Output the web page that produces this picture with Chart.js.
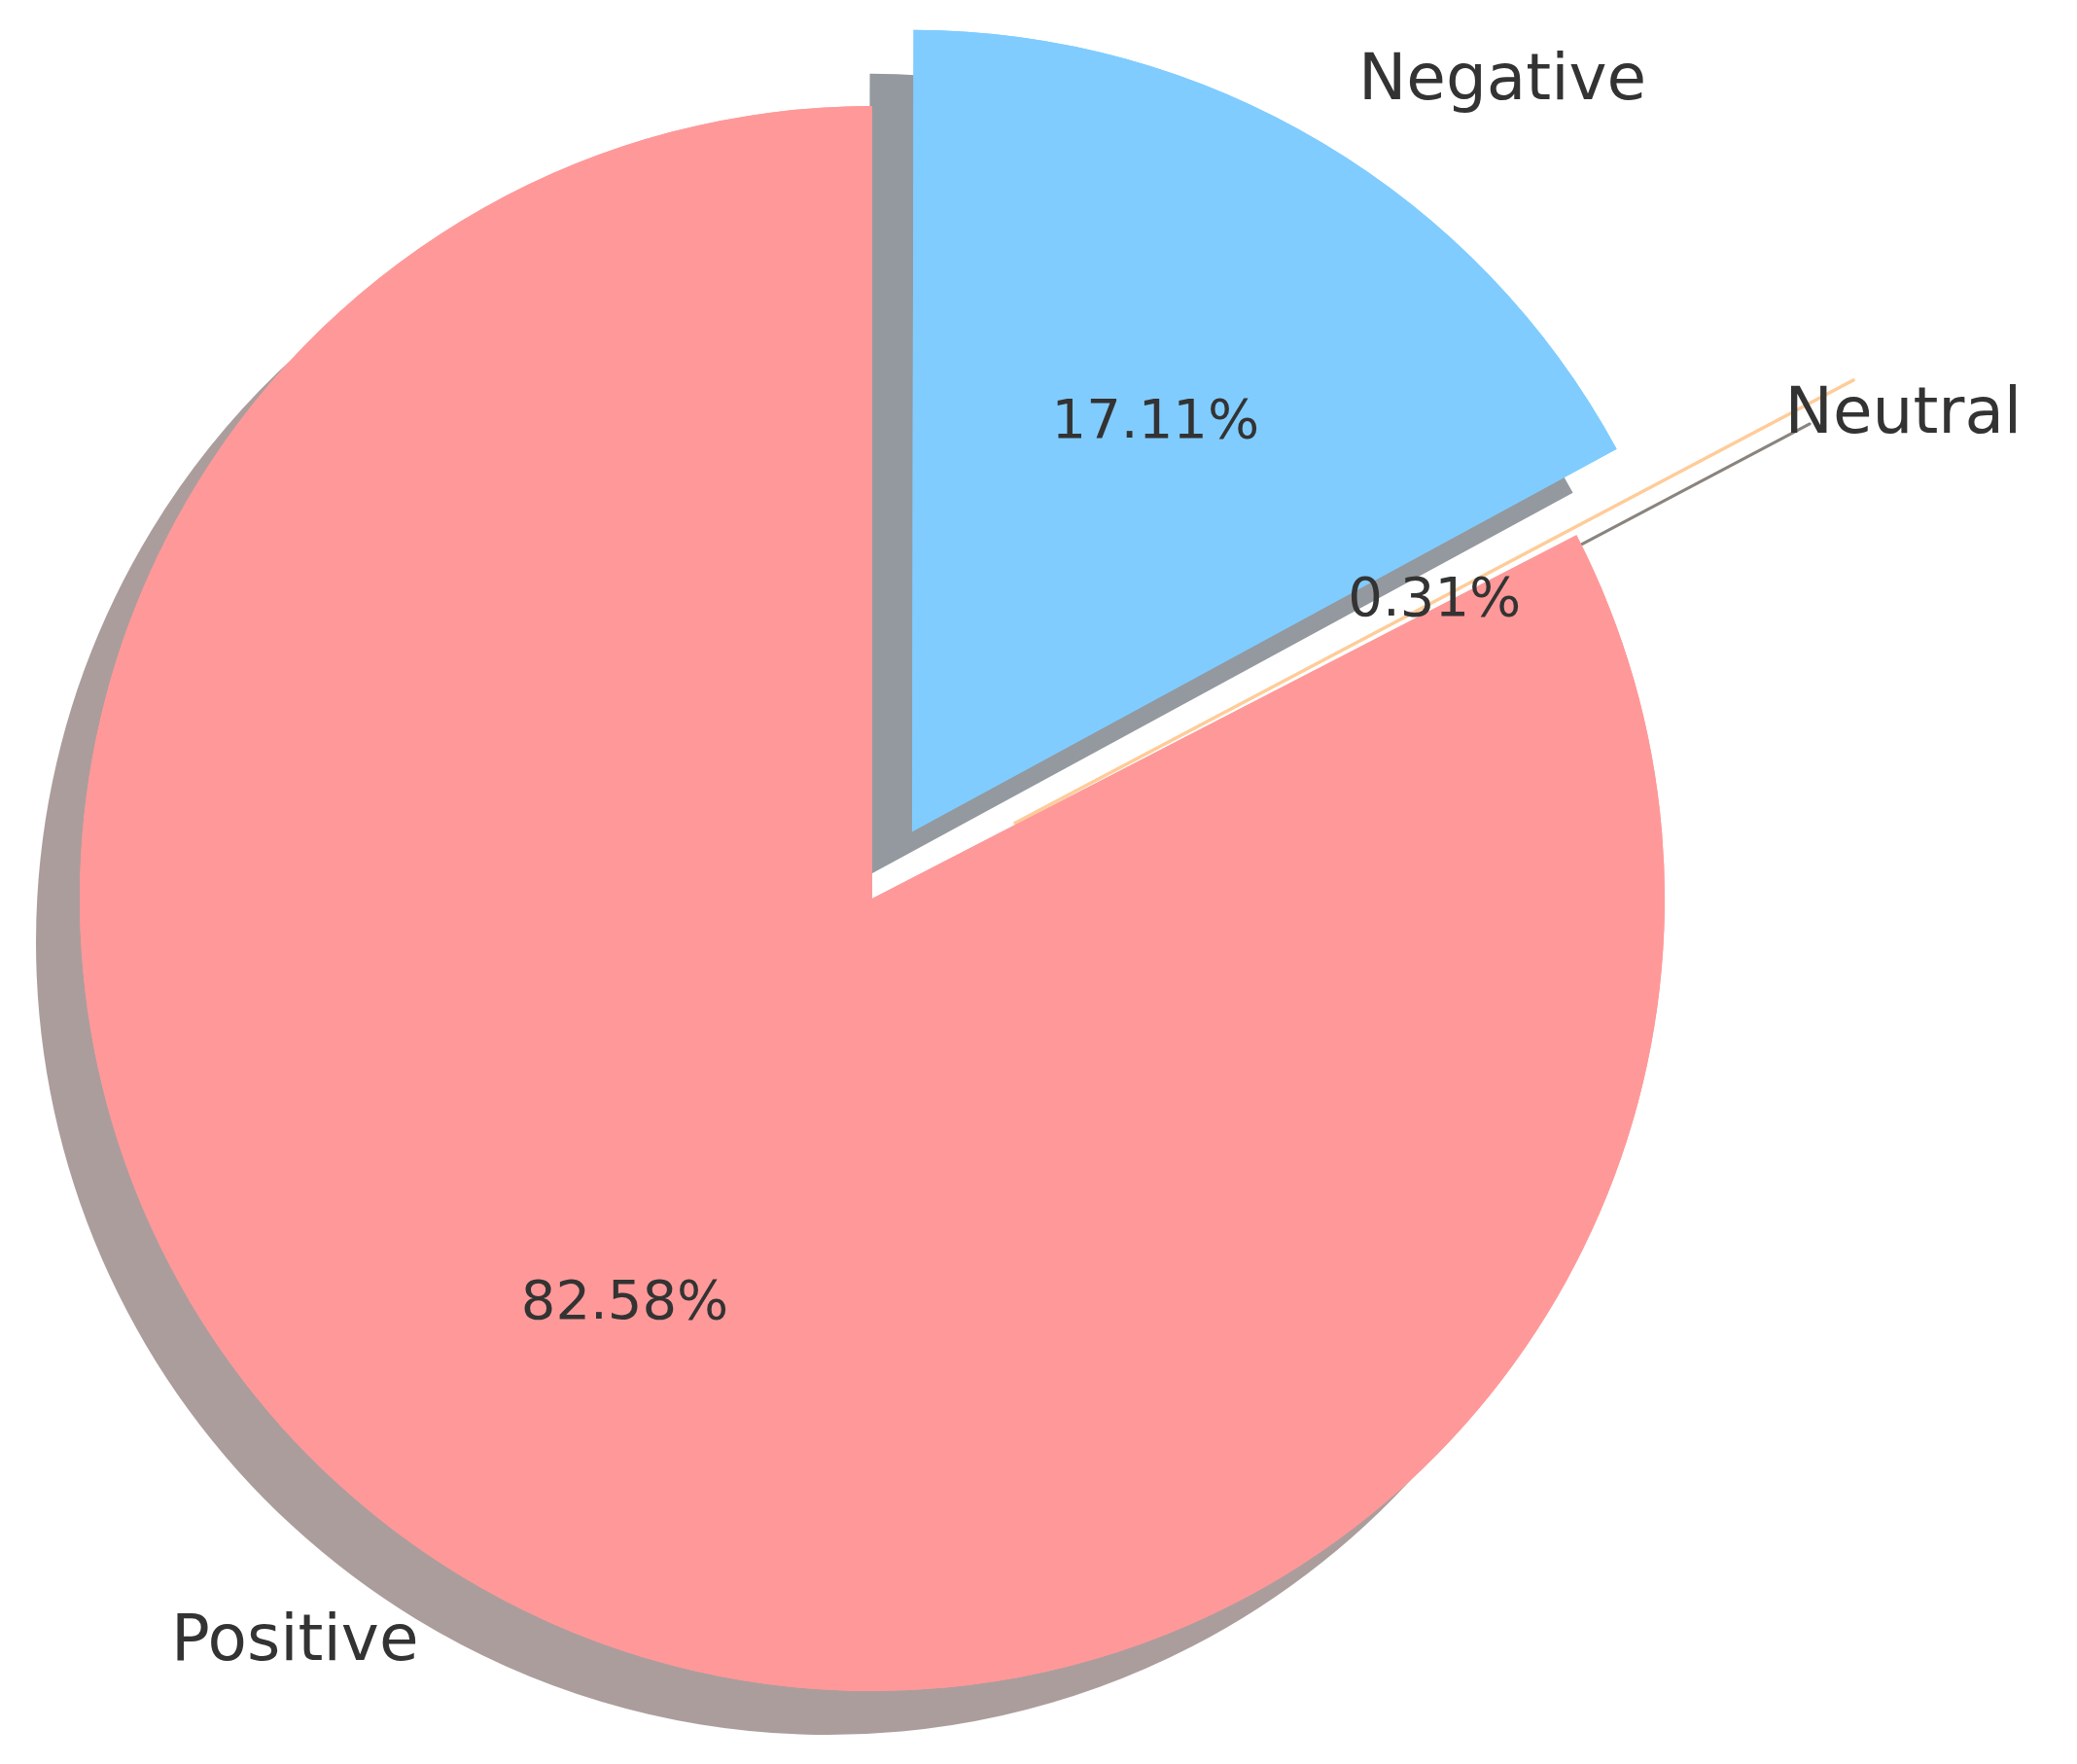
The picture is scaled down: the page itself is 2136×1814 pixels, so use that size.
<!DOCTYPE html>
<html><head><meta charset="utf-8">
<script src="https://cdn.jsdelivr.net/npm/chart.js@4"></script>
<style>html,body{margin:0;padding:0;background:#fff}#wrap{width:2136px;height:1814px}</style>
</head><body><div id="wrap"><canvas id="c"></canvas></div>
<script>
const categories = ["Negative", "Neutral", "Positive"];
const values = [17.11, 0.31, 82.58];
const pctLabels = ["17.11%", "0.31%", "82.58%"];
const colors = ["#80ccff", "#ffcc99", "#ff9999"];
const shadowColors = ["rgba(60,70,80,0.55)", "rgba(60,50,40,0.6)", "rgba(90,60,60,0.5)"];
const explode = [80, 165, 0];
const R = 815;

const shadowPlugin = {
  id: 'shadow',
  beforeDatasetsDraw(chart) {
    const ctx = chart.ctx;
    const meta = chart.getDatasetMeta(0);
    meta.data.forEach((arc, i) => {
      ctx.save();
      ctx.shadowColor = shadowColors[i];
      ctx.shadowOffsetX = -45;
      ctx.shadowOffsetY = 45;
      ctx.shadowBlur = 0;
      arc.draw(ctx);
      ctx.restore();
    });
  },
  afterDatasetsDraw(chart) {
    const ctx = chart.ctx;
    const meta = chart.getDatasetMeta(0);
    ctx.save();
    ctx.fillStyle = '#333333';
    ctx.textBaseline = 'middle';
    meta.data.forEach((arc, i) => {
      const mid = (arc.startAngle + arc.endAngle) / 2;
      const cx = arc.x + Math.cos(mid) * explode[i];
      const cy = arc.y + Math.sin(mid) * explode[i];
      const r = arc.outerRadius;
      ctx.font = '56px "DejaVu Sans"';
      ctx.textAlign = 'center';
      ctx.fillText(pctLabels[i], cx + Math.cos(mid) * r * 0.6, cy + Math.sin(mid) * r * 0.6);
      ctx.font = '66px "DejaVu Sans"';
      const lx = cx + Math.cos(mid) * r * 1.1;
      ctx.textAlign = Math.cos(mid) >= 0 ? 'left' : 'right';
      ctx.fillText(categories[i], lx, cy + Math.sin(mid) * r * 1.1);
    });
    ctx.restore();
  }
};

new Chart(document.getElementById('c'), {
  type: 'pie',
  data: { labels: categories, datasets: [{ data: values, backgroundColor: colors, borderWidth: [0, 3, 0], borderColor: colors, offset: explode.map(v => v * 4), hoverOffset: 0 }] },
  options: {
    responsive: true, maintainAspectRatio: false, animation: false,
    radius: R,
    layout: { padding: { left: 0, right: 342, top: 34, bottom: 0 } },
    plugins: { legend: { display: false }, tooltip: { enabled: false } },
    events: []
  },
  plugins: [shadowPlugin]
});
</script></body></html>
